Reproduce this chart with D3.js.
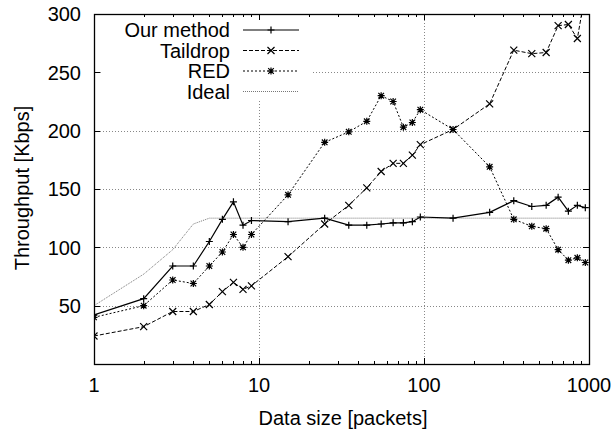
<!DOCTYPE html>
<html>
<head>
<meta charset="utf-8">
<script src="https://cdn.jsdelivr.net/npm/d3@7"></script>
<style>
  body { margin: 0; background: #fff; }
  text { font-family: "Liberation Sans", Arial, sans-serif; fill: #000; }
</style>
</head>
<body>
<div id="chart"></div>
<script>
// data
var sizes = [1, 2, 3, 4, 5, 6, 7, 8, 9, 15, 25, 35, 45, 55, 65, 75, 85, 95, 150, 250, 350, 450, 550, 650, 750, 850, 950];
var ourMethod = [42, 56, 84, 84, 105, 124, 139, 119, 123, 122, 125, 119, 119, 120, 121, 121, 122, 126, 125, 130, 140, 135, 136, 143, 131, 136, 134];
var taildrop = [24, 32, 45, 45, 51, 62, 70, 64, 67, 92, 120, 136, 151, 165, 172, 172, 179, 188, 201, 223, 269, 266, 267, 290, 291, 279, 318];
var red = [40, 50, 72, 69, 84, 96, 111, 100, 111, 145, 190, 199, 208, 230, 225, 203, 207, 218, 201, 169, 124, 118, 116, 98, 89, 91, 87];
var idealSizes = [1, 2, 3, 4, 5, 1000];
var ideal = [50, 77, 98, 120, 125, 125];

var xTicks = [1, 10, 100, 1000];
var yTicks = [50, 100, 150, 200, 250, 300];

var svgWidth = 615;
var svgHeight = 435;
var margin = { top: 14, right: 26, bottom: 71, left: 94 };
var width = svgWidth - margin.left - margin.right;
var height = svgHeight - margin.top - margin.bottom;
var fontSize = "20px";

var svg = d3.select("#chart")
    .append("svg")
    .attr("width", svgWidth)
    .attr("height", svgHeight);

var chartGroup = svg.append("g")
    .attr("transform", `translate(${margin.left}, ${margin.top})`);

var x = d3.scaleLog().domain([1, 1000]).range([0, width]);
var y = d3.scaleLinear().domain([0, 300]).range([height, 0]);

svg.append("defs").append("clipPath").attr("id", "plot")
    .append("rect").attr("width", width).attr("height", height);

// grid
var grid = chartGroup.append("g")
    .attr("stroke", "#888")
    .attr("stroke-width", 1)
    .attr("stroke-dasharray", "1,2");
grid.selectAll(".gy").data(yTicks.filter(d => d < 300)).enter()
    .append("line")
    .attr("x1", 0).attr("x2", width)
    .attr("y1", d => Math.round(y(d)) + 0.5).attr("y2", d => Math.round(y(d)) + 0.5);
grid.selectAll(".gx").data([10, 100]).enter()
    .append("line")
    .attr("x1", d => Math.round(x(d)) + 0.5).attr("x2", d => Math.round(x(d)) + 0.5)
    .attr("y1", 0).attr("y2", height);

// legend background hides the grid
chartGroup.append("rect")
    .attr("x", 8).attr("y", 1)
    .attr("width", 209).attr("height", 86)
    .attr("fill", "#fff");

// ticks (gnuplot style, inward, all four sides)
var tickG = chartGroup.append("g").attr("stroke", "#000").attr("stroke-width", 1);
var minor = [];
[1, 10, 100].forEach(function(dec) {
    for (var k = 2; k <= 9; k++) minor.push(dec * k);
});
[[0, 1], [height, -1]].forEach(function(side) {
    tickG.selectAll(null).data(xTicks).enter().append("line")
        .attr("x1", d => Math.round(x(d)) + 0.5).attr("x2", d => Math.round(x(d)) + 0.5)
        .attr("y1", side[0]).attr("y2", side[0] + side[1] * 6);
    tickG.selectAll(null).data(minor).enter().append("line")
        .attr("x1", d => Math.round(x(d)) + 0.5).attr("x2", d => Math.round(x(d)) + 0.5)
        .attr("y1", side[0]).attr("y2", side[0] + side[1] * 3);
});
[[0, 1], [width, -1]].forEach(function(side) {
    tickG.selectAll(null).data(yTicks).enter().append("line")
        .attr("y1", d => Math.round(y(d)) + 0.5).attr("y2", d => Math.round(y(d)) + 0.5)
        .attr("x1", side[0]).attr("x2", side[0] + side[1] * 6);
});

// tick labels
chartGroup.selectAll(".ylab").data(yTicks).enter()
    .append("text")
    .attr("x", -13)
    .attr("y", d => y(d))
    .attr("dy", "0.36em")
    .attr("text-anchor", "end")
    .style("font-size", fontSize)
    .text(d => d);
chartGroup.selectAll(".xlab").data(xTicks).enter()
    .append("text")
    .attr("x", d => x(d))
    .attr("y", height + 21)
    .attr("dy", "0.36em")
    .attr("text-anchor", "middle")
    .style("font-size", fontSize)
    .text(d => d);

// axis titles
svg.append("text")
    .attr("transform", "translate(22, 188) rotate(-90)")
    .attr("text-anchor", "middle")
    .attr("dy", "0.36em")
    .style("font-size", fontSize)
    .text("Throughput [Kbps]");
svg.append("text")
    .attr("x", 343)
    .attr("y", 418)
    .attr("dy", "0.36em")
    .attr("text-anchor", "middle")
    .style("font-size", fontSize)
    .text("Data size [packets]");

// markers
function plusPath(s) { return `M${-s},0H${s}M0,${-s}V${s}`; }
function crossPath(s) { return `M${-s},${-s}L${s},${s}M${-s},${s}L${s},${-s}`; }
function starPath(s) { return plusPath(s) + crossPath(s * 0.8); }

var series = [
    { name: "Our method", xs: sizes, ys: ourMethod, color: "#000", width: 1.2, dash: null, marker: plusPath(3.5) },
    { name: "Taildrop", xs: sizes, ys: taildrop, color: "#000", width: 1, dash: "4,2", marker: crossPath(3.5) },
    { name: "RED", xs: sizes, ys: red, color: "#000", width: 1, dash: "2,2", marker: starPath(3.5) },
    { name: "Ideal", xs: idealSizes, ys: ideal, color: "#777", width: 1, dash: "1,1", marker: null }
];

var plot = chartGroup.append("g").attr("clip-path", "url(#plot)");
var line = d3.line().x(d => x(d[0])).y(d => y(d[1]));

series.slice().reverse().forEach(function(s) {
    var pts = s.xs.map((v, i) => [v, s.ys[i]]);
    plot.append("path")
        .datum(pts)
        .attr("d", line)
        .attr("fill", "none")
        .attr("stroke", s.color)
        .attr("stroke-width", s.width)
        .attr("stroke-dasharray", s.dash);
    if (s.marker) {
        plot.selectAll(null).data(pts).enter()
            .append("path")
            .attr("transform", d => `translate(${x(d[0])},${y(d[1])})`)
            .attr("d", s.marker)
            .attr("stroke", s.color)
            .attr("stroke-width", 1.2)
            .attr("fill", "none");
    }
});

// legend
var legend = chartGroup.append("g");
series.forEach(function(s, i) {
    var ly = 16 + i * 20.5;
    legend.append("text")
        .attr("x", 136)
        .attr("y", ly)
        .attr("dy", "0.36em")
        .attr("text-anchor", "end")
        .style("font-size", fontSize)
        .text(s.name);
    legend.append("line")
        .attr("x1", 149).attr("x2", 205)
        .attr("y1", ly).attr("y2", ly)
        .attr("stroke", s.color)
        .attr("stroke-width", s.width)
        .attr("stroke-dasharray", s.dash);
    if (s.marker) {
        legend.append("path")
            .attr("transform", `translate(177,${ly})`)
            .attr("d", s.marker)
            .attr("stroke", s.color)
            .attr("stroke-width", 1.2)
            .attr("fill", "none");
    }
});

// frame
chartGroup.append("rect")
    .attr("x", 0.5).attr("y", 0.5)
    .attr("width", width).attr("height", height)
    .attr("fill", "none")
    .attr("stroke", "#000")
    .attr("stroke-width", 1.3);
</script>
</body>
</html>
